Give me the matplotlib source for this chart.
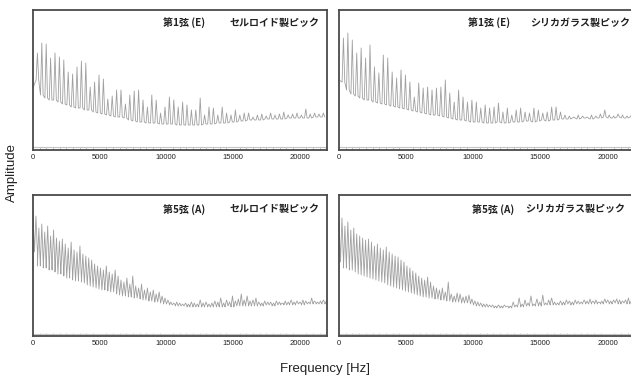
import numpy as np
import matplotlib
matplotlib.use("Agg")
import matplotlib.pyplot as plt

plt.rcParams['font.family'] = ['Liberation Sans', 'Noto Sans CJK JP', 'DejaVu Sans']

# spectra: peak / floor heights per harmonic (px-ish units)
e_step = 330.0   # 1st string E, harmonic spacing
a_step = 220.0   # 5th string A, every other harmonic (110 Hz not resolvable)

e_cell_start = 62
e_cell_peaks = [97, 107, 106, 92, 97, 93, 90, 78, 76, 83,
                89, 87, 63, 68, 75, 71, 51, 54, 60, 60,
                46, 55, 59, 60, 50, 43, 55, 50, 37, 43,
                53, 50, 43, 48, 45, 40, 40, 52, 35, 43,
                42, 35, 43, 37, 35, 40, 35, 37, 37, 33,
                35, 36, 34, 37, 35, 36, 38, 35, 36, 37,
                35, 41, 36, 37, 36, 37]
e_cell_floor = [70, 55, 52, 50, 50, 48, 46, 45, 43, 42,
                42, 40, 40, 38, 37, 36, 35, 34, 33, 33,
                32, 30, 29, 28, 28, 27, 27, 27, 26, 26,
                26, 26, 25, 25, 25, 25, 25, 25, 26, 26,
                26, 27, 27, 27, 28, 28, 29, 29, 30, 30,
                30, 30, 31, 31, 31, 31, 31, 32, 32, 32,
                32, 32, 32, 33, 33, 33]

e_sil_start = 70
e_sil_peaks = [112, 117, 110, 97, 102, 92, 105, 83, 77, 95,
               92, 78, 72, 80, 75, 68, 53, 67, 62, 63,
               60, 62, 63, 70, 57, 48, 60, 53, 48, 50,
               48, 42, 45, 42, 43, 47, 38, 42, 35, 40,
               42, 38, 37, 42, 40, 37, 38, 43, 43, 38,
               35, 34, 33, 35, 34, 33, 35, 34, 36, 40,
               35, 34, 36, 35, 34, 35]
e_sil_floor = [68, 60, 56, 54, 52, 50, 50, 48, 47, 46,
               45, 44, 43, 42, 41, 40, 39, 38, 37, 36,
               35, 35, 34, 33, 32, 31, 30, 30, 29, 28,
               28, 28, 27, 27, 27, 28, 27, 27, 28, 28,
               28, 29, 29, 28, 29, 30, 29, 30, 30, 31,
               31, 31, 32, 31, 32, 32, 31, 32, 32, 33,
               32, 32, 33, 32, 32, 33]

a_cell_start = 122
a_cell_peaks = [120, 108, 112, 104, 110, 100, 106, 98, 95, 97,
                92, 88, 94, 86, 84, 90, 82, 80, 78, 76,
                72, 70, 68, 66, 70, 64, 62, 66, 60, 56,
                54, 58, 52, 60, 50, 48, 52, 46, 48, 44,
                46, 42, 44, 40, 38, 36, 34, 33, 34, 33,
                32, 33, 32, 34, 33, 32, 36, 33, 34, 32,
                33, 35, 34, 38, 33, 36, 34, 40, 35, 37,
                42, 36, 40, 35, 36, 38, 34, 33, 35, 34,
                34, 33, 35, 34, 33, 35, 34, 36, 34, 35,
                34, 36, 35, 34, 38, 35, 34, 35, 36, 35]
a_cell_floor = [84, 70, 72, 68, 70, 66, 67, 64, 62, 63,
                60, 58, 60, 56, 55, 57, 54, 53, 51, 50,
                49, 48, 47, 46, 47, 45, 44, 44, 42, 41,
                40, 41, 39, 40, 38, 38, 37, 36, 36, 35,
                35, 34, 34, 33, 32, 32, 31, 31, 30, 30,
                30, 30, 29, 30, 29, 29, 30, 29, 30, 29,
                29, 30, 29, 30, 29, 30, 30, 29, 30, 30,
                30, 30, 31, 30, 31, 30, 31, 30, 31, 31,
                31, 30, 31, 31, 32, 31, 31, 32, 31, 32,
                32, 31, 32, 32, 32, 33, 32, 32, 33, 32]

a_sil_start = 118
a_sil_peaks = [118, 110, 114, 106, 108, 102, 100, 98, 96, 97,
               94, 90, 92, 88, 86, 89, 84, 82, 80, 79,
               76, 74, 70, 68, 65, 63, 60, 58, 56, 59,
               54, 50, 48, 46, 48, 44, 54, 42, 40, 43,
               42, 39, 40, 41, 37, 35, 34, 33, 32, 32,
               31, 31, 30, 31, 30, 31, 30, 30, 34, 31,
               38, 32, 36, 33, 40, 32, 37, 34, 41, 33,
               36, 38, 34, 33, 35, 34, 36, 35, 34, 36,
               35, 34, 36, 35, 37, 35, 36, 34, 35, 37,
               36, 35, 36, 37, 36, 35, 36, 38, 35, 36]
a_sil_floor = [74, 68, 70, 66, 66, 64, 62, 61, 60, 59,
               58, 57, 56, 55, 54, 53, 51, 50, 49, 48,
               47, 46, 45, 44, 43, 42, 41, 40, 39, 39,
               38, 38, 37, 37, 36, 36, 35, 35, 34, 34,
               34, 33, 33, 33, 32, 31, 30, 30, 29, 29,
               29, 29, 28, 29, 28, 29, 29, 28, 29, 29,
               30, 29, 30, 30, 31, 30, 31, 30, 31, 31,
               31, 32, 31, 31, 32, 31, 32, 32, 31, 32,
               32, 32, 33, 32, 32, 33, 32, 33, 32, 33,
               33, 32, 33, 33, 32, 33, 33, 32, 33, 33]

titles = [("第1弦 (E)", "セルロイド製ピック"),
          ("第1弦 (E)", "シリカガラス製ピック"),
          ("第5弦 (A)", "セルロイド製ピック"),
          ("第5弦 (A)", "シリカガラス製ピック")]
xticks = [0, 5000, 10000, 15000, 20000]


def spectrum(step, start, peaks, floor, frac):
    # spike at each harmonic, floor between (frac = half width of a spike)
    k = np.arange(1, len(peaks) + 1) * step
    w = frac * step
    xs = np.column_stack([k - w, k, k + w]).ravel()
    ys = np.column_stack([floor, peaks, floor]).ravel()
    return np.concatenate([[0], xs]), np.concatenate([[start], ys])


W, H = 631, 378
fig = plt.figure(figsize=(W / 100, H / 100), dpi=100)

boxes = [(33, 10, 294, 140), (339, 10, 296, 140),
         (33, 195, 294, 141), (339, 195, 296, 141)]
data = [(e_step, e_cell_start, e_cell_peaks, e_cell_floor, 0.3),
        (e_step, e_sil_start, e_sil_peaks, e_sil_floor, 0.3),
        (a_step, a_cell_start, a_cell_peaks, a_cell_floor, 0.5),
        (a_step, a_sil_start, a_sil_peaks, a_sil_floor, 0.5)]
title_pos = [(0.442, 0.976, 0.91), (0.436, 0.983, 0.91),
             (0.442, 0.976, 0.90), (0.449, 0.966, 0.90)]

for i in range(4):
    x0, y0, w, h = boxes[i]
    ax = fig.add_axes([x0 / W, 1 - (y0 + h) / H, w / W, h / H])
    xs, ys = spectrum(*data[i])
    ax.plot(xs, ys, color='#a0a0a0', lw=0.6)
    ax.axhline(2.5, color='#c4c4c4', lw=0.8)
    ax.set_xlim(0, 22050)
    ax.set_ylim(0, h)
    ax.set_yticks([])
    ax.set_xticks(xticks)
    ax.set_xticks(np.arange(0, 22050, 500), minor=True)
    ax.tick_params(axis='x', which='major', length=0, pad=3,
                   labelsize=5.5, labelcolor='#222222')
    ax.tick_params(axis='x', which='minor', direction='in', length=2,
                   width=0.5, color='#aaaaaa')
    for s in ax.spines.values():
        s.set_color('#4a4a4a')
        s.set_linewidth(1.3)
    lx, rx, ty = title_pos[i]
    ax.text(lx, ty, titles[i][0], transform=ax.transAxes, ha='left', va='center',
            fontsize=7.2, fontweight='bold', family=['Noto Sans CJK JP', 'DejaVu Sans'],
            color='#222222')
    ax.text(rx, ty, titles[i][1], transform=ax.transAxes, ha='right', va='center',
            fontsize=7.2, fontweight='bold', family=['Noto Sans CJK JP', 'DejaVu Sans'],
            color='#222222')

fig.text(12 / W, 1 - 172 / H, "Amplitude", rotation=90, ha='center', va='center',
         fontsize=9.5, color='#222222')
fig.text(325 / W, 1 - 369 / H, "Frequency [Hz]", ha='center', va='center',
         fontsize=9.5, color='#222222')

fig.savefig("out.png", dpi=100, facecolor='white')
